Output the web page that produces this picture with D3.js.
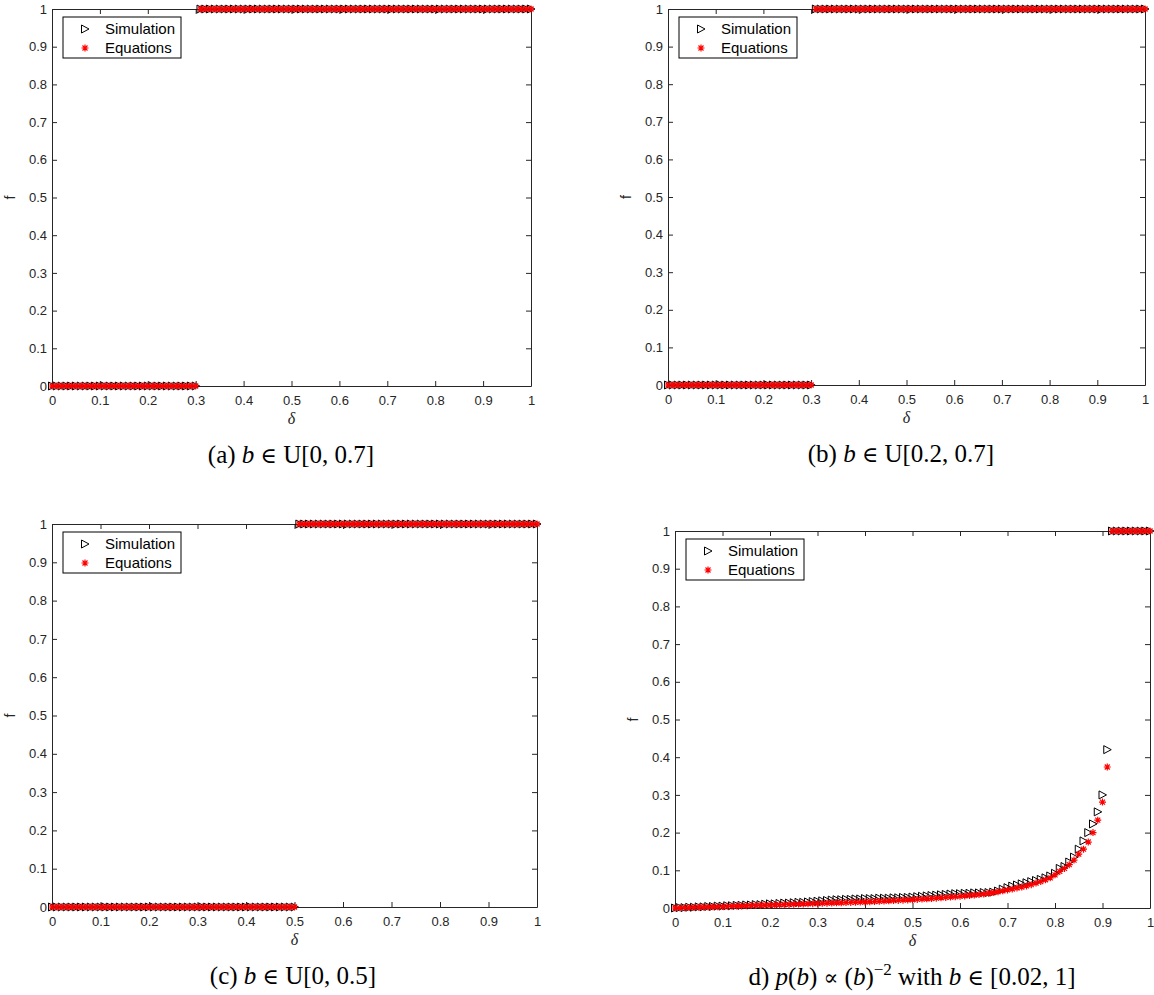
<!DOCTYPE html>
<html>
<head>
<meta charset="utf-8">
<script src="https://cdn.jsdelivr.net/npm/d3@7"></script>
<style>
  body { margin: 0; background: #fff; }
  svg { display: block; }
</style>
</head>
<body>
<svg id="chart" width="1154" height="995"></svg>
<script>
// delta grid shared by all four panels
const deltas = [
  0, 0.01, 0.02, 0.03, 0.04, 0.05, 0.06, 0.07, 0.08, 0.09,
  0.1, 0.11, 0.12, 0.13, 0.14, 0.15, 0.16, 0.17, 0.18, 0.19,
  0.2, 0.21, 0.22, 0.23, 0.24, 0.25, 0.26, 0.27, 0.28, 0.29,
  0.3, 0.31, 0.32, 0.33, 0.34, 0.35, 0.36, 0.37, 0.38, 0.39,
  0.4, 0.41, 0.42, 0.43, 0.44, 0.45, 0.46, 0.47, 0.48, 0.49,
  0.5, 0.51, 0.52, 0.53, 0.54, 0.55, 0.56, 0.57, 0.58, 0.59,
  0.6, 0.61, 0.62, 0.63, 0.64, 0.65, 0.66, 0.67, 0.68, 0.69,
  0.7, 0.71, 0.72, 0.73, 0.74, 0.75, 0.76, 0.77, 0.78, 0.79,
  0.8, 0.81, 0.82, 0.83, 0.84, 0.85, 0.86, 0.87, 0.88, 0.89,
  0.9, 0.91, 0.92, 0.93, 0.94, 0.95, 0.96, 0.97, 0.98, 0.99,
  1
];

// (a) and (b): simulation and equations coincide
const fAB = [
  0, 0, 0, 0, 0, 0, 0, 0, 0, 0,
  0, 0, 0, 0, 0, 0, 0, 0, 0, 0,
  0, 0, 0, 0, 0, 0, 0, 0, 0, 0,
  0, 1, 1, 1, 1, 1, 1, 1, 1, 1,
  1, 1, 1, 1, 1, 1, 1, 1, 1, 1,
  1, 1, 1, 1, 1, 1, 1, 1, 1, 1,
  1, 1, 1, 1, 1, 1, 1, 1, 1, 1,
  1, 1, 1, 1, 1, 1, 1, 1, 1, 1,
  1, 1, 1, 1, 1, 1, 1, 1, 1, 1,
  1, 1, 1, 1, 1, 1, 1, 1, 1, 1,
  1
];

// (c)
const fC = [
  0, 0, 0, 0, 0, 0, 0, 0, 0, 0,
  0, 0, 0, 0, 0, 0, 0, 0, 0, 0,
  0, 0, 0, 0, 0, 0, 0, 0, 0, 0,
  0, 0, 0, 0, 0, 0, 0, 0, 0, 0,
  0, 0, 0, 0, 0, 0, 0, 0, 0, 0,
  0, 1, 1, 1, 1, 1, 1, 1, 1, 1,
  1, 1, 1, 1, 1, 1, 1, 1, 1, 1,
  1, 1, 1, 1, 1, 1, 1, 1, 1, 1,
  1, 1, 1, 1, 1, 1, 1, 1, 1, 1,
  1, 1, 1, 1, 1, 1, 1, 1, 1, 1,
  1
];

// (d) power-law b
const simD = [
  0, 0.001, 0.001, 0.002, 0.002, 0.003, 0.003, 0.004, 0.004, 0.005,
  0.005, 0.006, 0.006, 0.007, 0.007, 0.008, 0.008, 0.009, 0.009, 0.010,
  0.011, 0.011, 0.012, 0.013, 0.013, 0.014, 0.015, 0.015, 0.016, 0.017,
  0.018, 0.019, 0.020, 0.021, 0.022, 0.022, 0.023, 0.023, 0.024, 0.024,
  0.025, 0.025, 0.025, 0.026, 0.026, 0.026, 0.027, 0.027, 0.028, 0.028,
  0.029, 0.030, 0.031, 0.032, 0.033, 0.034, 0.035, 0.036, 0.037, 0.038,
  0.038, 0.039, 0.039, 0.040, 0.040, 0.041, 0.041, 0.042, 0.045, 0.050,
  0.054, 0.058, 0.061, 0.064, 0.067, 0.070, 0.073, 0.076, 0.080, 0.085,
  0.092, 0.105, 0.110, 0.122, 0.135, 0.156, 0.178, 0.200, 0.223, 0.255,
  0.300, 0.420, 1, 1, 1, 1, 1, 1, 1, 1,
  1
];

const eqD = [
  0, 0.0004, 0.0008, 0.0012, 0.0016, 0.002, 0.0024, 0.0028, 0.0032, 0.0036,
  0.004, 0.0044, 0.0048, 0.0052, 0.0056, 0.006, 0.0064, 0.0068, 0.0072, 0.0076,
  0.008, 0.0084, 0.0088, 0.0092, 0.0096, 0.010, 0.0104, 0.0108, 0.0112, 0.0116,
  0.012, 0.0124, 0.0128, 0.0132, 0.0136, 0.014, 0.0144, 0.0148, 0.0152, 0.0156,
  0.016, 0.0166, 0.0172, 0.0178, 0.0184, 0.019, 0.0196, 0.0202, 0.0208, 0.0214,
  0.022, 0.0228, 0.0236, 0.0244, 0.0252, 0.026, 0.027, 0.028, 0.029, 0.030,
  0.031, 0.032, 0.0332, 0.0344, 0.0356, 0.037, 0.039, 0.041, 0.043, 0.0455,
  0.048, 0.0505, 0.053, 0.0555, 0.0585, 0.062, 0.066, 0.070, 0.075, 0.080,
  0.088, 0.097, 0.105, 0.115, 0.127, 0.143, 0.156, 0.175, 0.200, 0.233,
  0.281, 0.374, 1, 1, 1, 1, 1, 1, 1, 1,
  1
];

const tickValues = [0, 0.1, 0.2, 0.3, 0.4, 0.5, 0.6, 0.7, 0.8, 0.9, 1];
const legendLabels = ["Simulation", "Equations"];

// caption pieces: [text, kind]  kind: "i" italic, "sup" superscript, "sym" math symbol
const captionA = [["(a) "], ["b", "i"], [" "], ["∈", "sym"], [" U[0, 0.7]"]];
const captionB = [["(b) "], ["b", "i"], [" "], ["∈", "sym"], [" U[0.2, 0.7]"]];
const captionC = [["(c) "], ["b", "i"], [" "], ["∈", "sym"], [" U[0, 0.5]"]];
const captionD = [["d) "], ["p", "i"], ["("], ["b", "i"], [") "], ["∝", "sym"], [" ("], ["b", "i"], [")"],
                  ["−2", "sup"], [" with "], ["b", "i"], [" "], ["∈", "sym"], [" [0.02, 1]"]];

const panels = [
  { left: 52,  right: 531,  top: 9,   bottom: 386, sim: fAB,  eq: fAB, caption: captionA, cx: 291 },
  { left: 668, right: 1145, top: 9,   bottom: 385, sim: fAB,  eq: fAB, caption: captionB, cx: 901 },
  { left: 52,  right: 537,  top: 524, bottom: 907, sim: fC,   eq: fC,  caption: captionC, cx: 293 },
  { left: 675, right: 1150, top: 531, bottom: 908, sim: simD, eq: eqD, caption: captionD, cx: 912 }
];

const svg = d3.select("#chart");
const axisColor = "#262626";
const sans = "'Liberation Sans', Arial, sans-serif";
const serif = "'Liberation Serif', 'Times New Roman', serif";

const triPath = "M-3.5,-4L4,0L-3.5,4Z";
const starPath = "M0,-3.5V3.5M-3.5,0H3.5M-2.5,-2.5L2.5,2.5M-2.5,2.5L2.5,-2.5";

panels.forEach(function (p) {
  const x = d3.scaleLinear().domain([0, 1]).range([p.left, p.right]);
  const y = d3.scaleLinear().domain([0, 1]).range([p.bottom, p.top]);
  const fmt = d => String(d);

  const g = svg.append("g");

  g.append("rect")
    .attr("x", p.left).attr("y", p.top)
    .attr("width", p.right - p.left).attr("height", p.bottom - p.top)
    .attr("fill", "#fff");

  // axes, ticks inward on all four sides
  g.append("g")
    .attr("transform", "translate(0," + p.bottom + ")")
    .call(d3.axisBottom(x).tickValues(tickValues).tickFormat(fmt)
      .tickSizeInner(-5).tickSizeOuter(0).tickPadding(10));
  g.append("g")
    .attr("transform", "translate(" + p.left + ",0)")
    .call(d3.axisLeft(y).tickValues(tickValues).tickFormat(fmt)
      .tickSizeInner(-5).tickSizeOuter(0).tickPadding(5));
  g.append("g")
    .attr("transform", "translate(0," + p.top + ")")
    .call(d3.axisTop(x).tickValues(tickValues).tickFormat("")
      .tickSizeInner(-5).tickSizeOuter(0));
  g.append("g")
    .attr("transform", "translate(" + p.right + ",0)")
    .call(d3.axisRight(y).tickValues(tickValues).tickFormat("")
      .tickSizeInner(-5).tickSizeOuter(0));

  g.selectAll(".domain, .tick line").attr("stroke", axisColor);
  g.selectAll(".tick text")
    .attr("fill", axisColor)
    .style("font-family", sans)
    .style("font-size", "13px");

  // axis labels
  g.append("text")
    .attr("x", (p.left + p.right) / 2)
    .attr("y", p.bottom + 38)
    .attr("text-anchor", "middle")
    .style("font-family", serif)
    .style("font-style", "italic")
    .style("font-size", "16px")
    .attr("fill", axisColor)
    .text("δ");

  g.append("text")
    .attr("transform", "translate(" + (p.left - 37) + "," + ((p.top + p.bottom) / 2) + ") rotate(-90)")
    .attr("text-anchor", "middle")
    .style("font-family", sans)
    .style("font-size", "14px")
    .attr("fill", axisColor)
    .text("f");

  // simulation markers
  g.append("g").selectAll("path")
    .data(deltas.map((d, i) => ({ d: d, f: p.sim[i] })))
    .enter().append("path")
    .attr("transform", d => "translate(" + x(d.d) + "," + y(d.f) + ")")
    .attr("d", triPath)
    .attr("fill", "none")
    .attr("stroke", "#000")
    .attr("stroke-width", 1);

  // equation markers
  g.append("g").selectAll("path")
    .data(deltas.map((d, i) => ({ d: d, f: p.eq[i] })))
    .enter().append("path")
    .attr("transform", d => "translate(" + x(d.d) + "," + y(d.f) + ")")
    .attr("d", starPath)
    .attr("fill", "none")
    .attr("stroke", "#ff0000")
    .attr("stroke-width", 1.2);

  // legend
  const lx = p.left + 11, ly = p.top + 8;
  const leg = g.append("g");
  leg.append("rect")
    .attr("x", lx).attr("y", ly)
    .attr("width", 118).attr("height", 41)
    .attr("fill", "#fff")
    .attr("stroke", "#000")
    .attr("stroke-width", 1);
  leg.append("path")
    .attr("transform", "translate(" + (lx + 22) + "," + (ly + 12) + ")")
    .attr("d", triPath).attr("fill", "none").attr("stroke", "#000");
  leg.append("path")
    .attr("transform", "translate(" + (lx + 22) + "," + (ly + 31) + ")")
    .attr("d", starPath).attr("fill", "none").attr("stroke", "#ff0000").attr("stroke-width", 1.2);
  leg.selectAll("text.lbl")
    .data(legendLabels)
    .enter().append("text")
    .attr("class", "lbl")
    .attr("x", lx + 42)
    .attr("y", (d, i) => ly + 17 + i * 19)
    .style("font-family", sans)
    .style("font-size", "15px")
    .attr("fill", "#000")
    .text(d => d);

  // caption under the panel
  const cap = svg.append("text")
    .attr("x", p.cx)
    .attr("y", p.bottom + 77)
    .attr("text-anchor", "middle")
    .style("font-family", serif)
    .style("font-size", "25px")
    .attr("fill", "#000")
    .attr("xml:space", "preserve");
  let raised = false;
  p.caption.forEach(function (c) {
    const t = cap.append("tspan").text(c[0]);
    if (c[1] === "i") t.style("font-style", "italic");
    if (c[1] === "sym") t.style("font-family", "'DejaVu Serif', serif").style("font-size", "22px");
    if (c[1] === "sup") {
      t.style("font-size", "17px").attr("dy", -10);
      raised = true;
    } else if (raised) {
      t.attr("dy", 10);
      raised = false;
    }
  });
});
</script>
</body>
</html>
